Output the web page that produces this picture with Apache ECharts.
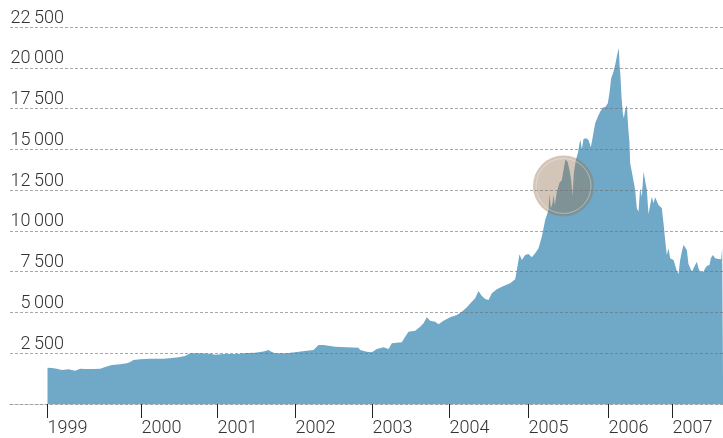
<!DOCTYPE html>
<html>
<head>
<meta charset="utf-8">
<script src="https://cdn.jsdelivr.net/npm/echarts@6/dist/echarts.min.js"></script>
<style>
  html, body { margin: 0; padding: 0; background: #fff; }
  #chart { width: 723px; height: 438px; }
</style>
</head>
<body>
<div id="chart"></div>
<script>
// Session index (trading-session position along the time axis)
const sessionIdx = [
  0, 13, 28, 43, 63, 83, 98, 113, 138, 158, 173, 193, 218, 238, 248, 258, 278, 308, 348, 373,
  393, 413, 428, 458, 488, 503, 528, 568, 598, 623, 648, 663, 673, 683, 718, 748, 778, 798, 813, 828,
  843, 863, 898, 933, 938, 958, 973, 988, 1008, 1023, 1033, 1048, 1063, 1073, 1083, 1103, 1118, 1128, 1138, 1148,
  1163, 1173, 1188, 1208, 1228, 1243, 1258, 1273, 1283, 1293, 1303, 1313, 1323, 1333, 1348, 1368, 1388, 1403, 1408, 1416,
  1423, 1433, 1443, 1453, 1463, 1473, 1483, 1493, 1503, 1506, 1510, 1515, 1518, 1522, 1528, 1536, 1543, 1548, 1554, 1560,
  1566, 1571, 1575, 1579, 1585, 1591, 1596, 1599, 1603, 1608, 1616, 1623, 1630, 1635, 1643, 1651, 1658, 1666, 1674, 1681,
  1686, 1691, 1698, 1704, 1710, 1714, 1716, 1719, 1722, 1726, 1729, 1733, 1738, 1742, 1746, 1748, 1753, 1758, 1763, 1768,
  1773, 1778, 1783, 1788, 1793, 1798, 1803, 1808, 1813, 1818, 1823, 1828, 1833, 1838, 1843, 1848, 1853, 1858, 1863, 1868,
  1878, 1883, 1888, 1893, 1898, 1903, 1908, 1913, 1918, 1923, 1928, 1933, 1938, 1943, 1948, 1953, 1958, 1968, 1973, 1978,
  1986, 1990, 1996, 2003, 2013, 2021, 2024, 2027
];
// Index level at each session
const indexValues = [
  1603, 1580, 1542, 1460, 1501, 1419, 1542, 1521, 1521, 1542, 1650, 1767, 1808, 1869, 1950, 2073, 2114, 2155, 2155, 2196,
  2237, 2319, 2482, 2482, 2460, 2400, 2441, 2441, 2500, 2523, 2600, 2687, 2560, 2482, 2482, 2564, 2646, 2687, 2993, 3000,
  2950, 2891, 2850, 2830, 2687, 2584, 2544, 2748, 2850, 2748, 3096, 3137, 3157, 3504, 3811, 3872, 4118, 4322, 4691, 4486,
  4424, 4261, 4486, 4691, 4834, 5038, 5304, 5651, 5856, 6306, 5999, 5815, 5754, 6163, 6408, 6613, 6776, 7022, 7594, 8555,
  8207, 8514, 8575, 8371, 8616, 8923, 9639, 10661, 11274, 12256, 11377, 11683, 12195, 11581, 12399, 12951, 13115, 13728, 14382, 14239,
  13728, 13115, 12133, 13524, 14341, 14750, 15364, 15568, 14996, 15629, 15670, 15568, 15118, 15670, 16591, 16999, 17306, 17551, 17613, 17817,
  18471, 19351, 19760, 20271, 20885, 21192, 20271, 19453, 18226, 17204, 16898, 17408, 17715, 16386, 15364, 14139, 13626, 13524, 12501, 11377,
  11172, 12604, 12092, 13626, 13728, 12501, 11029, 11581, 12092, 11683, 12052, 12092, 11581, 11581, 11377, 10457, 9434, 8514, 8923, 8310,
  8207, 8207, 7553, 7348, 8207, 8718, 9127, 8984, 8821, 7962, 7962, 7491, 7594, 7901, 8105, 7696, 7491, 7491, 7696, 7839,
  7901, 8310, 8514, 8310, 8269, 8248, 8923, 8923
];
// Year ticks (session index of first session of each year) and their labels
const yearTickIdx = [0, 282, 510, 744, 975, 1206, 1443, 1683, 1875];
const yearLabels = ['1999', '2000', '2001', '2002', '2003', '2004', '2005', '2006', '2007'];
// Y tick values
const yTickValues = [2500, 5000, 7500, 10000, 12500, 15000, 17500, 20000, 22500];
// Highlight circle
const highlightIdx = [1548];
const highlightValue = [12750];

const fontFamily = 'Roboto, "Liberation Sans", sans-serif';
const fmtThousands = v => {
  const s = String(v);
  if (s.length <= 3) return s;
  return s.slice(0, s.length - 3) + '\u2009' + s.slice(s.length - 3);
};

const chart = echarts.init(document.getElementById('chart'), null, { renderer: 'canvas' });
chart.setOption({
  animation: false,
  backgroundColor: '#ffffff',
  grid: { left: 10, right: 0, top: 27, bottom: 34, containLabel: false },
  xAxis: {
    type: 'value',
    min: -112.5,
    max: 2026.5,
    axisLine: { show: true, onZero: false, lineStyle: { color: '#a0a0a0', width: 1, type: [3, 2] } },
    axisTick: { show: true, length: 14, customValues: yearTickIdx, lineStyle: { color: '#222', width: 1 } },
    axisLabel: {
      show: true,
      customValues: yearTickIdx,
      formatter: v => yearLabels[yearTickIdx.indexOf(v)] || '',
      align: 'left',
      margin: 15,
      color: '#333',
      fontSize: 18,
      fontWeight: 300,
      fontFamily: fontFamily
    },
    splitLine: { show: false }
  },
  yAxis: {
    type: 'value',
    min: -625,
    max: 22500,
    axisLine: { show: false },
    axisTick: { show: false },
    splitLine: { show: false },
    axisLabel: {
      show: true,
      inside: true,
      customValues: yTickValues,
      formatter: v => fmtThousands(v),
      align: 'right',
      verticalAlign: 'bottom',
      margin: 54,
      color: '#333',
      fontSize: 18,
      fontWeight: 300,
      fontFamily: fontFamily
    }
  },
  series: [
    {
      type: 'line',
      data: sessionIdx.map((t, i) => [t, indexValues[i]]),
      symbol: 'none',
      showSymbol: false,
      lineStyle: { width: 0, color: '#6fa9c7' },
      areaStyle: { color: '#6fa9c7', opacity: 1, origin: 'start' },
      z: 2,
      silent: true,
      markLine: {
        silent: true,
        symbol: ['none', 'none'],
        label: { show: false },
        z: 5,
        lineStyle: { color: 'rgba(110,110,110,0.6)', width: 1, type: [3, 2] },
        data: yTickValues.map(v => ({ yAxis: v }))
      }
    },
    {
      type: 'scatter',
      data: highlightIdx.map((t, i) => [t, highlightValue[i]]),
      symbol: 'circle',
      symbolSize: 61,
      itemStyle: { color: 'rgba(150,115,85,0.52)' },
      z: 3,
      silent: true
    },
    {
      type: 'scatter',
      data: highlightIdx.map((t, i) => [t, highlightValue[i]]),
      symbol: 'circle',
      symbolSize: 55,
      itemStyle: { color: 'rgba(0,0,0,0)', borderColor: 'rgba(255,255,255,0.45)', borderWidth: 1 },
      z: 4,
      silent: true
    }
  ]
});
</script>
</body>
</html>
